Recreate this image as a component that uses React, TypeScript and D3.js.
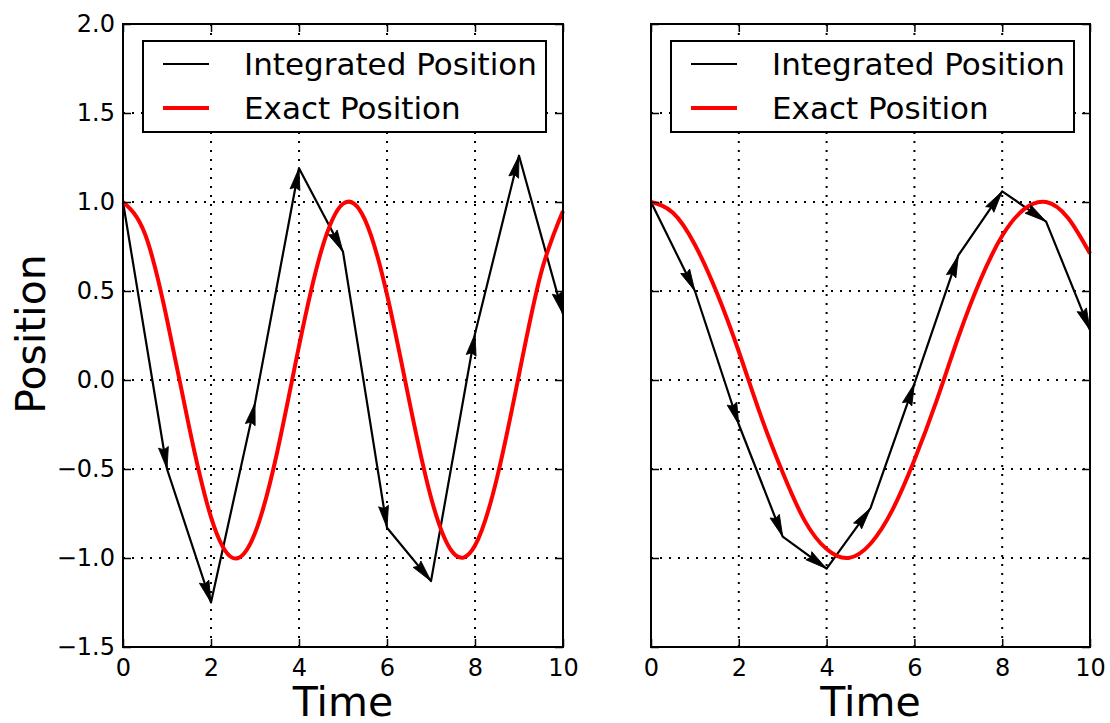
import React, {useRef, useEffect} from 'react'
import * as d3 from 'd3'

// integrated (step = 1) positions
const timeSteps = [0, 1, 2, 3, 4, 5, 6, 7, 8, 9, 10]
const integratedLeft = [1.0, -0.5, -1.25, -0.13, 1.19, 0.72, -0.83, -1.13, 0.26, 1.26, 0.37]
const integratedRight = [1.0, 0.5, -0.25, -0.88, -1.06, -0.72, -0.02, 0.7, 1.06, 0.89, 0.28]

// exact curve, sampled every half time unit
const exactTimes = [0, 0.5, 1, 1.5, 2, 2.5, 3, 3.5, 4, 4.5, 5, 5.5, 6, 6.5, 7, 7.5, 8, 8.5, 9, 9.5, 10]
const exactLeft = [1.0, 0.82, 0.34, -0.26, -0.77, -1.0, -0.86, -0.41, 0.19, 0.72, 0.99, 0.9, 0.48, -0.11, -0.66, -0.97, -0.93, -0.55, 0.03, 0.6, 0.95]
const exactRight = [1.0, 0.94, 0.76, 0.49, 0.16, -0.2, -0.52, -0.79, -0.95, -1.0, -0.92, -0.73, -0.45, -0.12, 0.24, 0.56, 0.81, 0.96, 1.0, 0.91, 0.71]

const xTicks = [0, 2, 4, 6, 8, 10]
const yTicks = [-1.5, -1, -0.5, 0, 0.5, 1, 1.5, 2]
const legendLabels = ['Integrated Position', 'Exact Position']

const FONT = 'DejaVu Sans, Verdana, sans-serif'

function App() {
  const svgRef = useRef<SVGSVGElement>(null)

  useEffect(() => {
    const svg = d3.select(svgRef.current)
    svg.selectAll('*').remove()

    const top = 24
    const bottom = 647
    const yScale = d3.scaleLinear().domain([-1.5, 2]).range([bottom, top])

    const panels = [
      {left: 123, right: 563, integrated: integratedLeft, exact: exactLeft, showY: true},
      {left: 651, right: 1090, integrated: integratedRight, exact: exactRight, showY: false}
    ]

    panels.forEach(p => {
      const xScale = d3.scaleLinear().domain([0, 10]).range([p.left, p.right])
      const g = svg.append('g')

      // dotted grid
      g.selectAll('.vgrid')
        .data(xTicks.slice(1, -1))
        .enter()
        .append('line')
        .attr('x1', d => xScale(d))
        .attr('x2', d => xScale(d))
        .attr('y1', top)
        .attr('y2', bottom)
        .attr('stroke', 'black')
        .attr('stroke-width', 2)
        .attr('stroke-dasharray', '2,7')
      g.selectAll('.hgrid')
        .data(yTicks.slice(1, -1))
        .enter()
        .append('line')
        .attr('x1', p.left)
        .attr('x2', p.right)
        .attr('y1', d => yScale(d))
        .attr('y2', d => yScale(d))
        .attr('stroke', 'black')
        .attr('stroke-width', 2)
        .attr('stroke-dasharray', '2,7')

      // integrated path
      const pts = timeSteps.map((t, i) => [xScale(t), yScale(p.integrated[i])] as [number, number])
      g.append('path')
        .datum(pts)
        .attr('fill', 'none')
        .attr('stroke', 'black')
        .attr('stroke-width', 2.2)
        .attr('stroke-linejoin', 'round')
        .attr('d', d3.line())

      // exact path
      g.append('path')
        .datum(exactTimes.map((t, i) => ({t: t, v: p.exact[i]})))
        .attr('fill', 'none')
        .attr('stroke', '#ff0000')
        .attr('stroke-width', 4)
        .attr(
          'd',
          d3
            .line<{t: number; v: number}>()
            .curve(d3.curveNatural)
            .x(d => xScale(d.t))
            .y(d => yScale(d.v))
        )

      // arrow heads at every step, pointing along the segment
      const L = 22
      const w = 10
      g.selectAll('.head')
        .data(pts.slice(1).map((pt, i) => ({pt: pt, prev: pts[i]})))
        .enter()
        .append('path')
        .attr('d', `M0,0L${-L},${w / 2}L${-L * 0.88},0L${-L},${-w / 2}Z`)
        .attr('fill', 'black')
        .attr('stroke', 'black')
        .attr('stroke-width', 0.8)
        .attr('transform', d => {
          const ang = (Math.atan2(d.pt[1] - d.prev[1], d.pt[0] - d.prev[0]) * 180) / Math.PI
          return `translate(${d.pt[0]},${d.pt[1]}) rotate(${ang})`
        })

      // axes, ticks inward on all four sides
      const styleAxis = sel => {
        sel.select('.domain').remove()
        sel.selectAll('line').attr('stroke-width', 1.5)
        sel.selectAll('text').attr('fill', 'black')
        sel.attr('font-family', FONT).attr('font-size', 24)
      }
      g.append('g')
        .attr('transform', `translate(0,${bottom})`)
        .call(d3.axisBottom(xScale).tickValues(xTicks).tickSizeInner(-8).tickSizeOuter(0).tickPadding(12).tickFormat(d3.format('d')))
        .call(styleAxis)
      g.append('g')
        .attr('transform', `translate(0,${top})`)
        .call(d3.axisTop(xScale).tickValues(xTicks).tickSizeInner(-8).tickSizeOuter(0).tickFormat(() => ''))
        .call(styleAxis)
      g.append('g')
        .attr('transform', `translate(${p.left},0)`)
        .call(
          d3
            .axisLeft(yScale)
            .tickValues(yTicks)
            .tickSizeInner(-8)
            .tickSizeOuter(0)
            .tickPadding(8)
            .tickFormat(p.showY ? d3.format('.1f') : () => '')
        )
        .call(styleAxis)
      g.append('g')
        .attr('transform', `translate(${p.right},0)`)
        .call(d3.axisRight(yScale).tickValues(yTicks).tickSizeInner(-8).tickSizeOuter(0).tickFormat(() => ''))
        .call(styleAxis)

      // frame
      g.append('rect')
        .attr('x', p.left)
        .attr('y', top)
        .attr('width', p.right - p.left)
        .attr('height', bottom - top)
        .attr('fill', 'none')
        .attr('stroke', 'black')
        .attr('stroke-width', 2)

      // legend
      const lg = g.append('g').attr('transform', `translate(${p.left + 20},41)`)
      lg.append('rect')
        .attr('width', 403)
        .attr('height', 91)
        .attr('fill', 'white')
        .attr('stroke', 'black')
        .attr('stroke-width', 2)
      legendLabels.forEach((label, i) => {
        lg.append('line')
          .attr('x1', 20)
          .attr('x2', 66)
          .attr('y1', 23 + i * 44)
          .attr('y2', 23 + i * 44)
          .attr('stroke', i === 0 ? 'black' : '#ff0000')
          .attr('stroke-width', i === 0 ? 2 : 4)
        lg.append('text')
          .attr('x', 101)
          .attr('y', 34 + i * 44)
          .attr('font-family', FONT)
          .attr('font-size', 31)
          .text(label)
      })

      // x label
      g.append('text')
        .attr('x', (p.left + p.right) / 2)
        .attr('y', 716)
        .attr('text-anchor', 'middle')
        .attr('font-family', FONT)
        .attr('font-size', 41)
        .text('Time')
    })

    svg
      .append('text')
      .attr('transform', 'translate(45,334) rotate(-90)')
      .attr('text-anchor', 'middle')
      .attr('font-family', FONT)
      .attr('font-size', 41)
      .text('Position')
  }, [])

  return (
    <svg
      ref={svgRef}
      width="1110"
      height="723"
      style={{position: 'absolute', left: 0, top: 0, background: 'white'}}
    />
  )
}

export default App
